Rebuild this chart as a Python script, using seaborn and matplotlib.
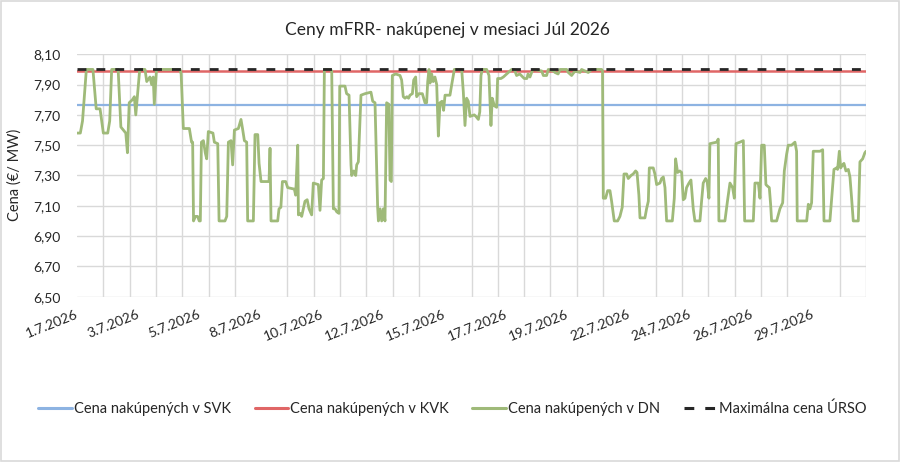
# Ceny mFRR - nakupenej v mesiaci Jul 2026 (hourly prices, 30 days)

import matplotlib
matplotlib.use("Agg")
import matplotlib.pyplot as plt
from matplotlib.patches import Rectangle
import seaborn as sns
import pandas as pd
import numpy as np

# hour of month -> DN price (breakpoints of the trace)
dn_hours = [
    0, 3, 5, 8.5, 14.5, 17.5, 21, 24, 28, 29.8, 31.6, 37.5, 40, 44.5, 46, 47.6,
    50.5, 52.3, 53.6, 57.2, 62, 63.6, 66.5, 68.1, 69.5, 70.5, 72.5, 94, 95, 97,
    102.5, 104.5, 105.5, 106.3, 108, 110, 111.5, 112.5, 113.5, 115.3, 117, 118.3,
    119.8, 124, 125.3, 128.4, 129.6, 135, 136.6, 138.1, 140.5, 142, 143.6, 147.2,
    149.6, 151, 152.7, 154.8, 155.7, 160.9, 162.4, 164.9, 166.1, 167.9, 175.2,
    176.1, 177, 183.1, 184.3, 186, 187.4, 190.4, 192.2, 198.3, 199.5, 201.4, 202,
    203.5, 205, 208, 210, 211.7, 214.1, 215.6, 220.2, 221.7, 223.2, 224.8, 225.7,
    230.8, 232.4, 233.9, 235.4, 237, 239, 239.7, 244.5, 246, 248.2, 250, 250.6,
    252.5, 254.3, 255.2, 256.7, 259.1, 262.8, 268.2, 269.8, 271.9, 274.3, 275,
    276.5, 278, 279.5, 281, 282.5, 284.5, 285.6, 286.8, 287.7, 290.8, 294.7,
    296.2, 297.7, 299.3, 301, 302.5, 303.8, 306, 307.2, 309, 309.9, 312, 315.1,
    317.5, 319, 320, 321.2, 322.1, 323.6, 325, 326.6, 328.2, 329.7, 331.2, 333,
    334.5, 335.8, 340.3, 341.9, 344.3, 351, 352.5, 354, 355.5, 357, 358.6, 362.5,
    364, 366.2, 367.5, 368.6, 369.8, 373.8, 375.9, 377.7, 378.9, 380.8, 382.9,
    383.8, 386.8, 389, 392, 396.6, 399, 401.1, 404, 408.1, 410.5, 411.5, 413.3,
    414.8, 416.3, 424, 425.5, 428.5, 430, 434.6, 436.1, 439, 440.7, 446.8, 448.3,
    451.3, 454.4, 459, 460.4, 463.4, 466.5, 469.6, 478.7, 479.5, 480.2, 482.3,
    484.2, 486.3, 487.8, 490.2, 493.3, 495.4, 497.5, 499.1, 501.5, 503, 505.5,
    507.5, 509.7, 511, 512.7, 513.7, 518.2, 519.7, 521.3, 522.2, 525.8, 527.3,
    528.9, 531.9, 533.4, 535, 536.5, 538, 543.2, 545, 546.2, 548, 550, 551.7,
    553.2, 554.7, 556.2, 558.4, 560.2, 562.3, 563.8, 568.4, 569.9, 571.4, 573.6,
    575, 576.6, 577.5, 583.6, 585.1, 585.7, 591.2, 593.5, 595.8, 598.2, 599.8,
    601.3, 604.9, 608, 609.2, 617.1, 618.6, 621.7, 623.2, 624.7, 627.1, 628.6,
    630, 631.7, 632.9, 633.8, 638.4, 641.4, 643.9, 645.4, 647.5, 649, 652, 655.1,
    656.6, 657.2, 665.8, 667.3, 668.8, 670.3, 671.8, 673.4, 677.9, 680.4, 681.6,
    687, 688.6, 690.7, 693, 694, 695.6, 696.8, 698.6, 699.8, 701.6, 703.8, 705.3,
    706.8, 708.3, 712.9, 714.4, 716.9, 718.9, 720,
]
dn_price = [
    7.58, 7.58, 7.66, 8.00, 8.00, 7.74, 7.74, 7.58, 7.58, 7.66, 8.00, 8.00, 7.62,
    7.58, 7.45, 7.78, 7.80, 7.82, 7.70, 8.00, 8.00, 7.92, 7.95, 7.90, 7.95, 7.77,
    8.00, 8.00, 7.97, 7.61, 7.61, 7.52, 7.52, 7.00, 7.03, 7.03, 7.00, 7.00, 7.52,
    7.53, 7.45, 7.41, 7.59, 7.58, 7.52, 7.51, 7.00, 7.00, 7.03, 7.52, 7.53, 7.37,
    7.60, 7.61, 7.67, 7.61, 7.53, 7.52, 7.00, 7.00, 7.57, 7.57, 7.38, 7.26, 7.26,
    7.48, 7.00, 7.00, 7.08, 7.09, 7.26, 7.26, 7.22, 7.21, 7.17, 7.50, 7.04, 7.05,
    7.03, 7.13, 7.14, 7.08, 7.04, 7.25, 7.24, 7.07, 7.27, 7.28, 8.00, 8.00, 7.99,
    7.08, 7.08, 7.06, 7.05, 7.89, 7.89, 7.84, 7.83, 7.37, 7.30, 7.33, 7.30, 7.37,
    7.39, 7.83, 7.84, 7.85, 7.79, 7.78, 7.09, 7.00, 7.08, 7.00, 7.08, 7.00, 7.78,
    7.77, 7.27, 7.26, 7.96, 7.97, 7.96, 7.93, 7.82, 7.81, 7.82, 7.81, 7.83, 7.84,
    7.93, 7.95, 7.82, 7.84, 7.84, 7.78, 7.78, 7.92, 8.00, 7.91, 7.97, 7.92, 7.95,
    7.90, 7.56, 7.78, 7.79, 7.73, 7.83, 7.83, 7.90, 8.00, 8.00, 7.85, 7.63, 7.81,
    7.79, 7.69, 7.70, 7.69, 7.67, 7.72, 7.96, 8.00, 8.00, 7.96, 7.63, 7.81, 7.76,
    7.75, 7.94, 7.94, 7.95, 7.97, 8.00, 8.00, 7.96, 7.97, 7.94, 7.94, 7.97, 7.95,
    7.98, 8.00, 7.99, 7.96, 7.96, 8.00, 7.99, 7.98, 7.97, 8.00, 8.00, 7.98, 7.96,
    7.99, 7.98, 8.00, 7.99, 7.98, 8.00, 8.00, 7.99, 7.15, 7.15, 7.20, 7.20, 7.13,
    7.00, 7.00, 7.03, 7.09, 7.31, 7.31, 7.28, 7.30, 7.31, 7.33, 7.32, 7.17, 7.02,
    7.02, 7.08, 7.13, 7.35, 7.35, 7.31, 7.24, 7.25, 7.28, 7.29, 7.22, 7.00, 7.00,
    7.15, 7.41, 7.32, 7.33, 7.32, 7.14, 7.15, 7.22, 7.25, 7.27, 7.08, 7.00, 7.00,
    7.13, 7.25, 7.28, 7.26, 7.15, 7.51, 7.52, 7.54, 7.00, 7.00, 7.13, 7.25, 7.22,
    7.15, 7.51, 7.52, 7.53, 7.00, 7.00, 7.25, 7.25, 7.15, 7.50, 7.50, 7.24, 7.23,
    7.22, 7.11, 7.00, 7.00, 7.08, 7.12, 7.33, 7.44, 7.50, 7.50, 7.52, 7.46, 7.00,
    7.00, 7.11, 7.08, 7.12, 7.46, 7.46, 7.46, 7.47, 7.00, 7.00, 7.15, 7.34, 7.35,
    7.34, 7.46, 7.35, 7.37, 7.38, 7.33, 7.34, 7.29, 7.15, 7.00, 7.00, 7.39, 7.41,
    7.45, 7.46,
]

# flat series over the whole month
flat_hours = [0, 720]
svk_price = [7.765, 7.765]
kvk_price = [7.99, 7.99]
max_price = [8.00, 8.00]

tick_hours = [0, 56, 112, 168, 224, 280, 336, 392, 448, 504, 560, 616, 672]
tick_labels = ["1.7.2026", "3.7.2026", "5.7.2026", "8.7.2026", "10.7.2026",
               "12.7.2026", "15.7.2026", "17.7.2026", "19.7.2026", "22.7.2026",
               "24.7.2026", "26.7.2026", "29.7.2026"]
y_ticks = [6.5, 6.7, 6.9, 7.1, 7.3, 7.5, 7.7, 7.9, 8.1]

sns.set_theme(style="white")
plt.rcParams["font.family"] = ["Lato", "DejaVu Sans"]

fig = plt.figure(figsize=(9, 4.62), dpi=100)
ax = fig.add_axes([0.0856, 0.3578, 0.8767, 0.5247])

df_flat = pd.DataFrame({"hour": flat_hours, "svk": svk_price,
                        "kvk": kvk_price, "max": max_price})
df_dn = pd.DataFrame({"hour": dn_hours, "dn": dn_price})

sns.lineplot(data=df_flat, x="hour", y="svk", ax=ax, color="#8db3e2",
             lw=1.6, label="Cena nakúpených v SVK")
sns.lineplot(data=df_flat, x="hour", y="kvk", ax=ax, color="#e06666",
             lw=1.8, label="Cena nakúpených v KVK")
sns.lineplot(data=df_dn, x="hour", y="dn", ax=ax, color="#9fba79",
             lw=2.0, label="Cena nakúpených v DN", estimator=None,
             solid_joinstyle="round")
sns.lineplot(data=df_flat, x="hour", y="max", ax=ax, color="#262626",
             lw=2.0, dashes=False, label="Maximálna cena ÚRSO")
ax.lines[-1].set_dashes((3.2, 3.6))

ax.set_xlim(0, 720)
ax.set_ylim(6.5, 8.1)
ax.set_yticks(y_ticks)
ax.set_yticklabels([f"{v:.2f}".replace(".", ",") for v in y_ticks], fontsize=10)
ax.set_xticks(tick_hours)
ax.set_xticklabels(tick_labels, rotation=22, ha="right", va="center",
                   rotation_mode="anchor", fontsize=10)
ax.set_xticks(range(0, 721, 24), minor=True)
ax.tick_params(which="both", length=0)
ax.tick_params(axis="x", pad=12)
ax.tick_params(axis="y", pad=12)
ax.grid(which="minor", axis="x", color="#d9d9d9", lw=1)
ax.grid(which="major", axis="y", color="#d9d9d9", lw=1)
ax.grid(which="major", axis="x", visible=False)
for s in ax.spines.values():
    s.set_visible(False)
ax.set_xlabel("")
ax.set_ylabel("")

handles, labels = ax.get_legend_handles_labels()
ax.get_legend().remove()
leg = fig.legend(handles, labels, loc="center", bbox_to_anchor=(0.503, 0.115),
                 ncol=4, frameon=False, fontsize=10.5, handlelength=2.3,
                 handletextpad=0.15, columnspacing=1.6)
for h in leg.get_lines():
    h.set_linewidth(2.2)

fig.text(0.497, 0.935, "Ceny mFRR- nakúpenej v mesiaci Júl 2026",
         ha="center", va="center", fontsize=12.5, color="#262626")
fig.text(0.016, 0.621, "Cena (€/ MW)", rotation=90, ha="center",
         va="center", fontsize=10.5, color="#262626")
for t in ax.get_xticklabels() + ax.get_yticklabels():
    t.set_color("#262626")

fig.patches.append(Rectangle((0.001, 0.002), 0.998, 0.996, transform=fig.transFigure,
                             fill=False, edgecolor="#d9d9d9", lw=1.2))

fig.savefig("out.png", dpi=100)
